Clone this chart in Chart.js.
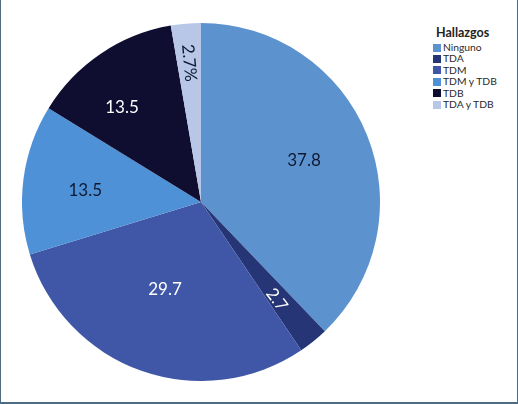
<!DOCTYPE html>
<html><head><meta charset="utf-8">
<script src="https://cdn.jsdelivr.net/npm/chart.js@4/dist/chart.umd.min.js"></script>
<style>
html,body{margin:0;padding:0;background:#fff;}
#frame{position:absolute;left:0;top:0;width:516px;height:402px;border-left:1px solid #4d6b82;border-right:2px solid #4d6b82;border-bottom:2px solid #4d6b82;background:#fff;}
#wrap{position:absolute;left:22px;top:23px;width:358px;height:358px;}
#legend{position:absolute;left:433px;top:25px;font-family:Lato,"Open Sans",sans-serif;color:#2a2a2a;}
#legend .t{font-weight:bold;font-size:12.5px;margin-bottom:2px;margin-left:3px;color:#222;}
#legend .i{font-size:10.3px;height:11.4px;line-height:11.4px;display:flex;align-items:center;}
#legend .b{width:8px;height:8px;margin-right:2px;display:inline-block;}
</style></head>
<body>
<div id="frame"></div>
<div id="wrap"><canvas id="c"></canvas></div>
<div id="legend"></div>
<script>
const legendTitle = "Hallazgos";
const categories = ["Ninguno","TDA","TDM","TDM y TDB","TDB","TDA y TDB"];
const values = [37.8, 2.7, 29.7, 13.5, 13.5, 2.7];
const labelTexts = ["37.8","2.7","29.7","13.5","13.5","2.7%"];
const colors = ["#5c93cf","#253576","#3f57a6","#4f91d6","#0f0d30","#b8c6e7"];
const labelColors = ["#0e1a33","#ffffff","#ffffff","#0e1a33","#ffffff","#0e1a33"];
// label placement: fraction of radius and rotation in degrees
const labelRadius = [0.62, 0.69, 0.53, 0.65, 0.69, 0.78];
const labelAngleShift = [0, 0.02, 0.05, -0.03, -0.1, 0];
const labelRotation = [0, 53, 0, 0, 0, 85];

const lg = document.getElementById('legend');
let h = '<div class="t">'+legendTitle+'</div>';
categories.forEach((c,i)=>{ h += '<div class="i"><span class="b" style="background:'+colors[i]+'"></span>'+c+'</div>'; });
lg.innerHTML = h;

const labelPlugin = {
  id:'sliceLabels',
  afterDatasetsDraw(chart){
    const ctx = chart.ctx;
    const meta = chart.getDatasetMeta(0);
    meta.data.forEach((arc,i)=>{
      const p = arc.getProps(['x','y','startAngle','endAngle','outerRadius'],true);
      const mid = (p.startAngle+p.endAngle)/2 + labelAngleShift[i];
      const r = p.outerRadius*labelRadius[i];
      const x = p.x + Math.cos(mid)*r, y = p.y + Math.sin(mid)*r;
      ctx.save();
      ctx.translate(x,y);
      ctx.rotate(labelRotation[i]*Math.PI/180);
      ctx.font = '17px Lato, "Open Sans", sans-serif';
      ctx.fillStyle = labelColors[i];
      ctx.textAlign='center'; ctx.textBaseline='middle';
      ctx.fillText(labelTexts[i],0,0);
      ctx.restore();
    });
  }
};

new Chart(document.getElementById('c'),{
  type:'pie',
  data:{labels:categories,datasets:[{data:values,backgroundColor:colors,borderWidth:0}]},
  options:{responsive:true,maintainAspectRatio:false,animation:false,
    layout:{padding:0},
    plugins:{legend:{display:false},tooltip:{enabled:false}}},
  plugins:[labelPlugin]
});
</script>
</body></html>
